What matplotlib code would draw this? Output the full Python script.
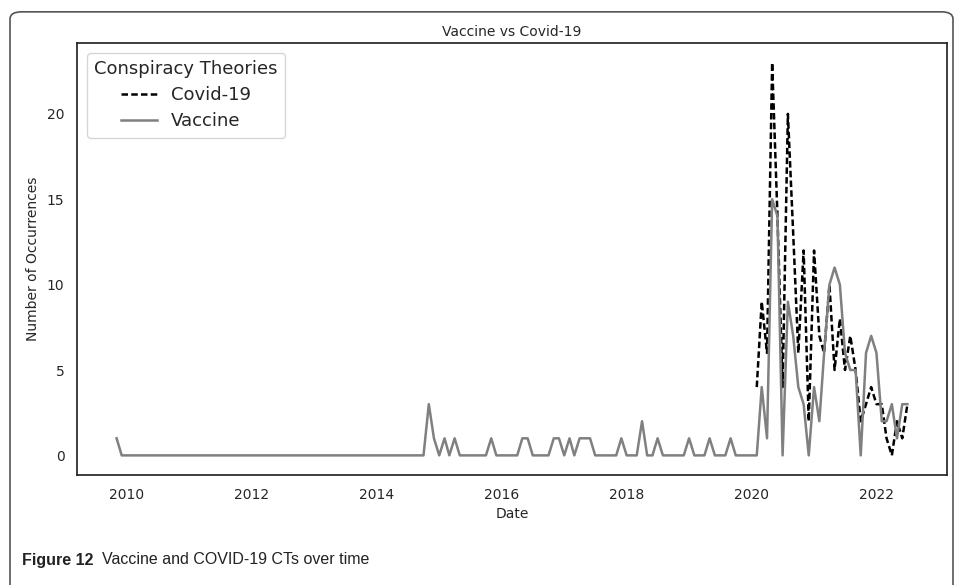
import pandas as pd
import matplotlib
matplotlib.use("Agg")
import matplotlib.pyplot as plt
from matplotlib.patches import FancyBboxPatch

# monthly counts, Nov 2009 .. Jul 2022
VACCINE_START = "2009-11-01"
vaccine = (
    [1, 0]                                          # 2009 Nov-Dec
    + [0, 0, 0, 0, 0, 0, 0, 0, 0, 0, 0, 0]          # 2010
    + [0, 0, 0, 0, 0, 0, 0, 0, 0, 0, 0, 0]          # 2011
    + [0, 0, 0, 0, 0, 0, 0, 0, 0, 0, 0, 0]          # 2012
    + [0, 0, 0, 0, 0, 0, 0, 0, 0, 0, 0, 0]          # 2013
    + [0, 0, 0, 0, 0, 0, 0, 0, 0, 0, 3, 1]          # 2014
    + [0, 1, 0, 1, 0, 0, 0, 0, 0, 0, 1, 0]          # 2015
    + [0, 0, 0, 0, 1, 1, 0, 0, 0, 0, 1, 1]          # 2016
    + [0, 1, 0, 1, 1, 1, 0, 0, 0, 0, 0, 1]          # 2017
    + [0, 0, 0, 2, 0, 0, 1, 0, 0, 0, 0, 0]          # 2018
    + [1, 0, 0, 0, 1, 0, 0, 0, 1, 0, 0, 0]          # 2019
    + [0, 0, 4, 1, 15, 14, 0, 9, 7, 4, 3, 0]        # 2020
    + [4, 2, 6, 10, 11, 10, 6, 5, 5, 0, 6, 7]       # 2021
    + [6, 2, 2, 3, 1, 3, 3]                         # 2022 Jan-Jul
)

COVID_START = "2020-02-01"
covid = (
    [4, 9, 6, 23, 14, 4, 20, 13, 6, 12, 2]          # 2020 Feb-Dec
    + [12, 7, 6, 10, 5, 8, 5, 7, 5, 2, 3, 4]        # 2021
    + [3, 3, 1, 0, 2, 1, 3]                         # 2022 Jan-Jul
)

vac_dates = pd.date_range(VACCINE_START, periods=len(vaccine), freq="MS")
cov_dates = pd.date_range(COVID_START, periods=len(covid), freq="MS")

TXT = "#262626"
plt.rcParams["font.family"] = ["DejaVu Sans"]

fig = plt.figure(figsize=(9.57, 5.85), dpi=100)
ax = fig.add_axes([0.0805, 0.188, 0.909, 0.7385])

ax.plot(cov_dates, covid, color="black", linestyle="--", dashes=(2.6, 1.3),
        linewidth=1.8, label="Covid-19")
ax.plot(vac_dates, vaccine, color="#808080", linewidth=1.8, label="Vaccine")

ax.set_yticks([0, 5, 10, 15, 20])
ax.tick_params(axis="both", length=0, pad=9, labelsize=10, labelcolor=TXT)
ax.set_xlabel("Date", fontsize=10, color=TXT, labelpad=4)
ax.set_ylabel("Number of Occurrences", fontsize=10, color=TXT, labelpad=5)
ax.set_title("Vaccine vs Covid-19", fontsize=10, color=TXT, pad=5)
for s in ax.spines.values():
    s.set_color("#262626")
    s.set_linewidth(1.25)

leg = ax.legend(title="Conspiracy Theories", loc="upper left", fontsize=13,
                title_fontsize=13, frameon=True, borderaxespad=0.55,
                handlelength=2, labelspacing=0.45)
leg.get_frame().set_edgecolor("#cccccc")
for t in leg.get_texts():
    t.set_color(TXT)
leg.get_title().set_color(TXT)

# rounded journal frame round the figure (open at the bottom)
frame = FancyBboxPatch((10 / 957, -0.05), 943 / 957, 1.04 - 6 / 585,
                       boxstyle="round,pad=0,rounding_size=0.012",
                       transform=fig.transFigure, fill=False,
                       edgecolor="#555555", linewidth=1.2)
fig.patches.append(frame)

cap_font = ["Liberation Sans", "DejaVu Sans"]
t1 = fig.text(22 / 957, 1 - 560 / 585, "Figure 12", fontsize=11.5, fontweight="bold",
              family=cap_font, va="center", color="#222222")
fig.canvas.draw()
bb = t1.get_window_extent()
fig.text((bb.x1 + 8) / 957, 1 - 560 / 585, "Vaccine and COVID-19 CTs over time",
         fontsize=11.5, family=cap_font, va="center", color="#222222")

fig.savefig("out.png", dpi=100)
